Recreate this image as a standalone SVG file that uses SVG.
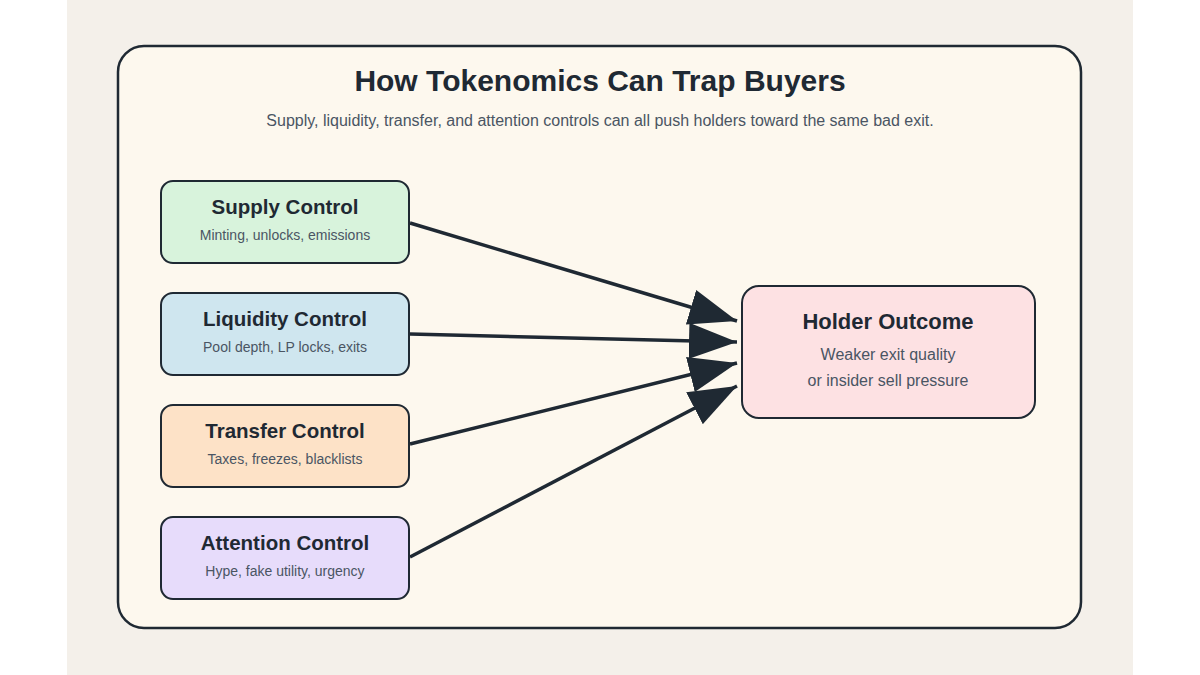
<svg xmlns="http://www.w3.org/2000/svg" width="1200" height="675" viewBox="0 0 1200 675">
<style>
text{font-family:"Liberation Sans",Arial,sans-serif;text-anchor:middle}
.t{font-size:20.5px;font-weight:bold;fill:#1f2933}
.s{font-size:14px;fill:#4a5563}
.box{stroke:#1f2933;stroke-width:2}
.edge{stroke:#1f2933;stroke-width:3.5;fill:none}
</style>
<defs>
<marker id="ah" markerUnits="userSpaceOnUse" markerWidth="50" markerHeight="36" refX="48" refY="18" orient="auto">
<path d="M0,0 L48,18 L0,36 z" fill="#1f2933"/>
</marker>
</defs>
<rect x="0" y="0" width="1200" height="675" fill="#ffffff"/>
<rect x="67" y="0" width="1066" height="675" fill="#f4f0ea"/>
<rect x="118" y="46" width="963" height="582" rx="26" fill="#fdf8ee" stroke="#1f2933" stroke-width="2.5"/>
<text x="600" y="91" style="font-size:30px;font-weight:bold;fill:#1f2933">How Tokenomics Can Trap Buyers</text>
<text x="600" y="126" style="font-size:16px;fill:#4a5563">Supply, liquidity, transfer, and attention controls can all push holders toward the same bad exit.</text>
<g id="connectors">
<line class="edge" x1="410" y1="223" x2="737" y2="321" marker-end="url(#ah)"/>
<line class="edge" x1="410" y1="334" x2="737" y2="342" marker-end="url(#ah)"/>
<line class="edge" x1="410" y1="444" x2="737" y2="363" marker-end="url(#ah)"/>
<line class="edge" x1="410" y1="557" x2="737" y2="386" marker-end="url(#ah)"/>
</g>
<g id="supply">
<rect class="box" x="161" y="181" width="248" height="82" rx="12" fill="#d8f3dc"/>
<text class="t" x="285" y="214">Supply Control</text>
<text class="s" x="285" y="240">Minting, unlocks, emissions</text>
</g>
<g id="liquidity">
<rect class="box" x="161" y="293" width="248" height="82" rx="12" fill="#cfe6ef"/>
<text class="t" x="285" y="326">Liquidity Control</text>
<text class="s" x="285" y="352">Pool depth, LP locks, exits</text>
</g>
<g id="transfer">
<rect class="box" x="161" y="405" width="248" height="82" rx="12" fill="#fde2c7"/>
<text class="t" x="285" y="438">Transfer Control</text>
<text class="s" x="285" y="464">Taxes, freezes, blacklists</text>
</g>
<g id="attention">
<rect class="box" x="161" y="517" width="248" height="82" rx="12" fill="#e7dcfb"/>
<text class="t" x="285" y="550">Attention Control</text>
<text class="s" x="285" y="576">Hype, fake utility, urgency</text>
</g>
<g id="holder">
<rect class="box" x="742" y="286" width="293" height="132" rx="17" fill="#fde1e3"/>
<text x="888" y="329" style="font-size:22px;font-weight:bold;fill:#1f2933">Holder Outcome</text>
<text x="888" y="360" style="font-size:16px;fill:#4a5563">Weaker exit quality</text>
<text x="888" y="386" style="font-size:16px;fill:#4a5563">or insider sell pressure</text>
</g>
</svg>
